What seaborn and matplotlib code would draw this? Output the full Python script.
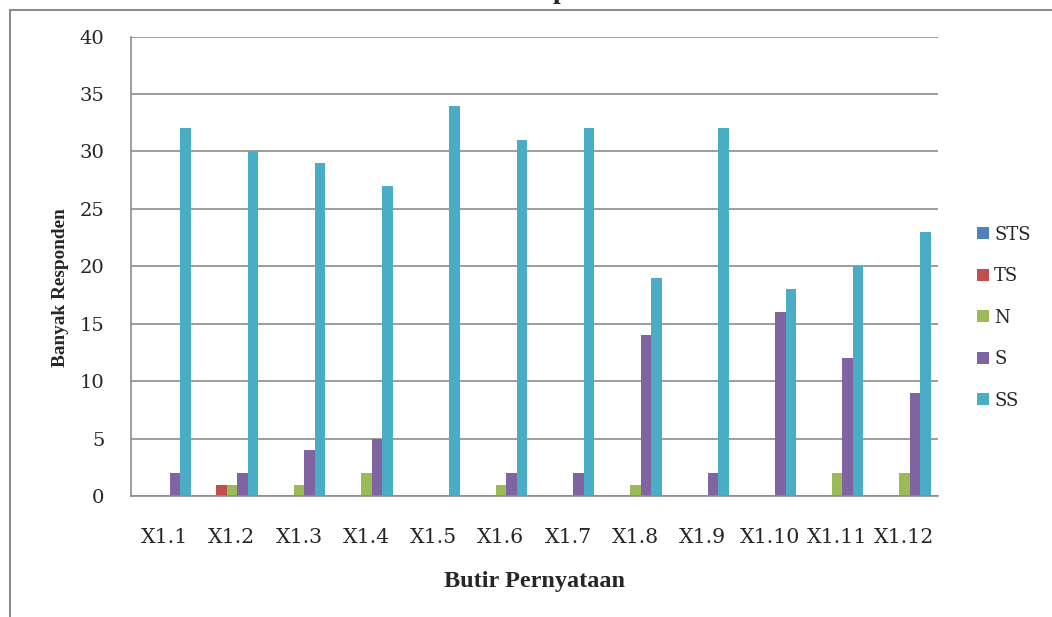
import numpy as np
import pandas as pd
import matplotlib
matplotlib.use('Agg')
import matplotlib.pyplot as plt
import seaborn as sns
from matplotlib.patches import Rectangle

# data
butir = ['X1.1', 'X1.2', 'X1.3', 'X1.4', 'X1.5', 'X1.6',
         'X1.7', 'X1.8', 'X1.9', 'X1.10', 'X1.11', 'X1.12']
kategori = ['STS', 'TS', 'N', 'S', 'SS']
sts = [0, 0, 0, 0, 0, 0, 0, 0, 0, 0, 0, 0]
ts = [0, 1, 0, 0, 0, 0, 0, 0, 0, 0, 0, 0]
netral = [0, 1, 1, 2, 0, 1, 0, 1, 0, 0, 2, 2]
setuju = [2, 2, 4, 5, 0, 2, 2, 14, 2, 16, 12, 9]
sangat_setuju = [32, 30, 29, 27, 34, 31, 32, 19, 32, 18, 20, 23]
warna = ['#4F81BD', '#C0504D', '#9BBB59', '#8064A2', '#4BACC6']

nilai = [sts, ts, netral, setuju, sangat_setuju]
rows = []
for k, vals in zip(kategori, nilai):
    for b, v in zip(butir, vals):
        rows.append({'butir': b, 'kategori': k, 'jumlah': v})
df = pd.DataFrame(rows)

sns.set_style('white')
plt.rcParams['font.family'] = ['DejaVu Serif']

fig = plt.figure(figsize=(10.52, 6.17), dpi=100)
ax = fig.add_axes([131/1052, 1-496/617, (938-131)/1052, (496-36.6)/617])

sns.barplot(data=df, x='butir', y='jumlah', hue='kategori', order=butir,
            hue_order=kategori, palette=warna, saturation=1, width=0.78,
            linewidth=0, ax=ax)

ax.set_ylim(0, 40)
ax.set_yticks(np.arange(0, 41, 5))
ax.set_xlim(-0.5, len(butir) - 0.5)
ax.yaxis.grid(True, color='#8c8c8c', linewidth=1.2)
ax.set_axisbelow(True)
for s in ['top', 'right']:
    ax.spines[s].set_visible(False)
for s in ['left', 'bottom']:
    ax.spines[s].set_color('#8c8c8c')
    ax.spines[s].set_linewidth(1.2)
ax.tick_params(axis='y', length=6, width=1.2, color='#8c8c8c', labelsize=14, pad=13)
ax.tick_params(axis='x', length=0, labelsize=14.8, pad=23)

ax.set_xlabel('Butir Pernyataan', family='Liberation Serif', fontweight='bold',
              fontsize=17.5, labelpad=17)
ax.set_ylabel('Banyak Responden', family='Liberation Serif', fontweight='bold',
              fontsize=13.9)
ax.yaxis.set_label_coords(-0.077, 0.453)

ax.legend(loc='center left', bbox_to_anchor=(0.922, 0.485),
          bbox_transform=fig.transFigure, frameon=False, fontsize=13,
          handlelength=0.65, handleheight=0.65, handletextpad=0.3,
          labelspacing=1.3, borderaxespad=0)

# title is cut off at the top of the picture, only its lowest pixels show
fig.text(0.513, 1 + 1.5/617, 'Sebaran Jawaban Responden Variabel X1',
         ha='center', va='baseline', family='Liberation Serif',
         fontweight='bold', fontsize=20)

fig.patches.append(Rectangle((10/1052, -0.1), 1.2, 1.1 - 10/617,
                             transform=fig.transFigure, fill=False,
                             edgecolor='#8c8c8c', linewidth=1.5))

fig.savefig('out.png', dpi=100)
